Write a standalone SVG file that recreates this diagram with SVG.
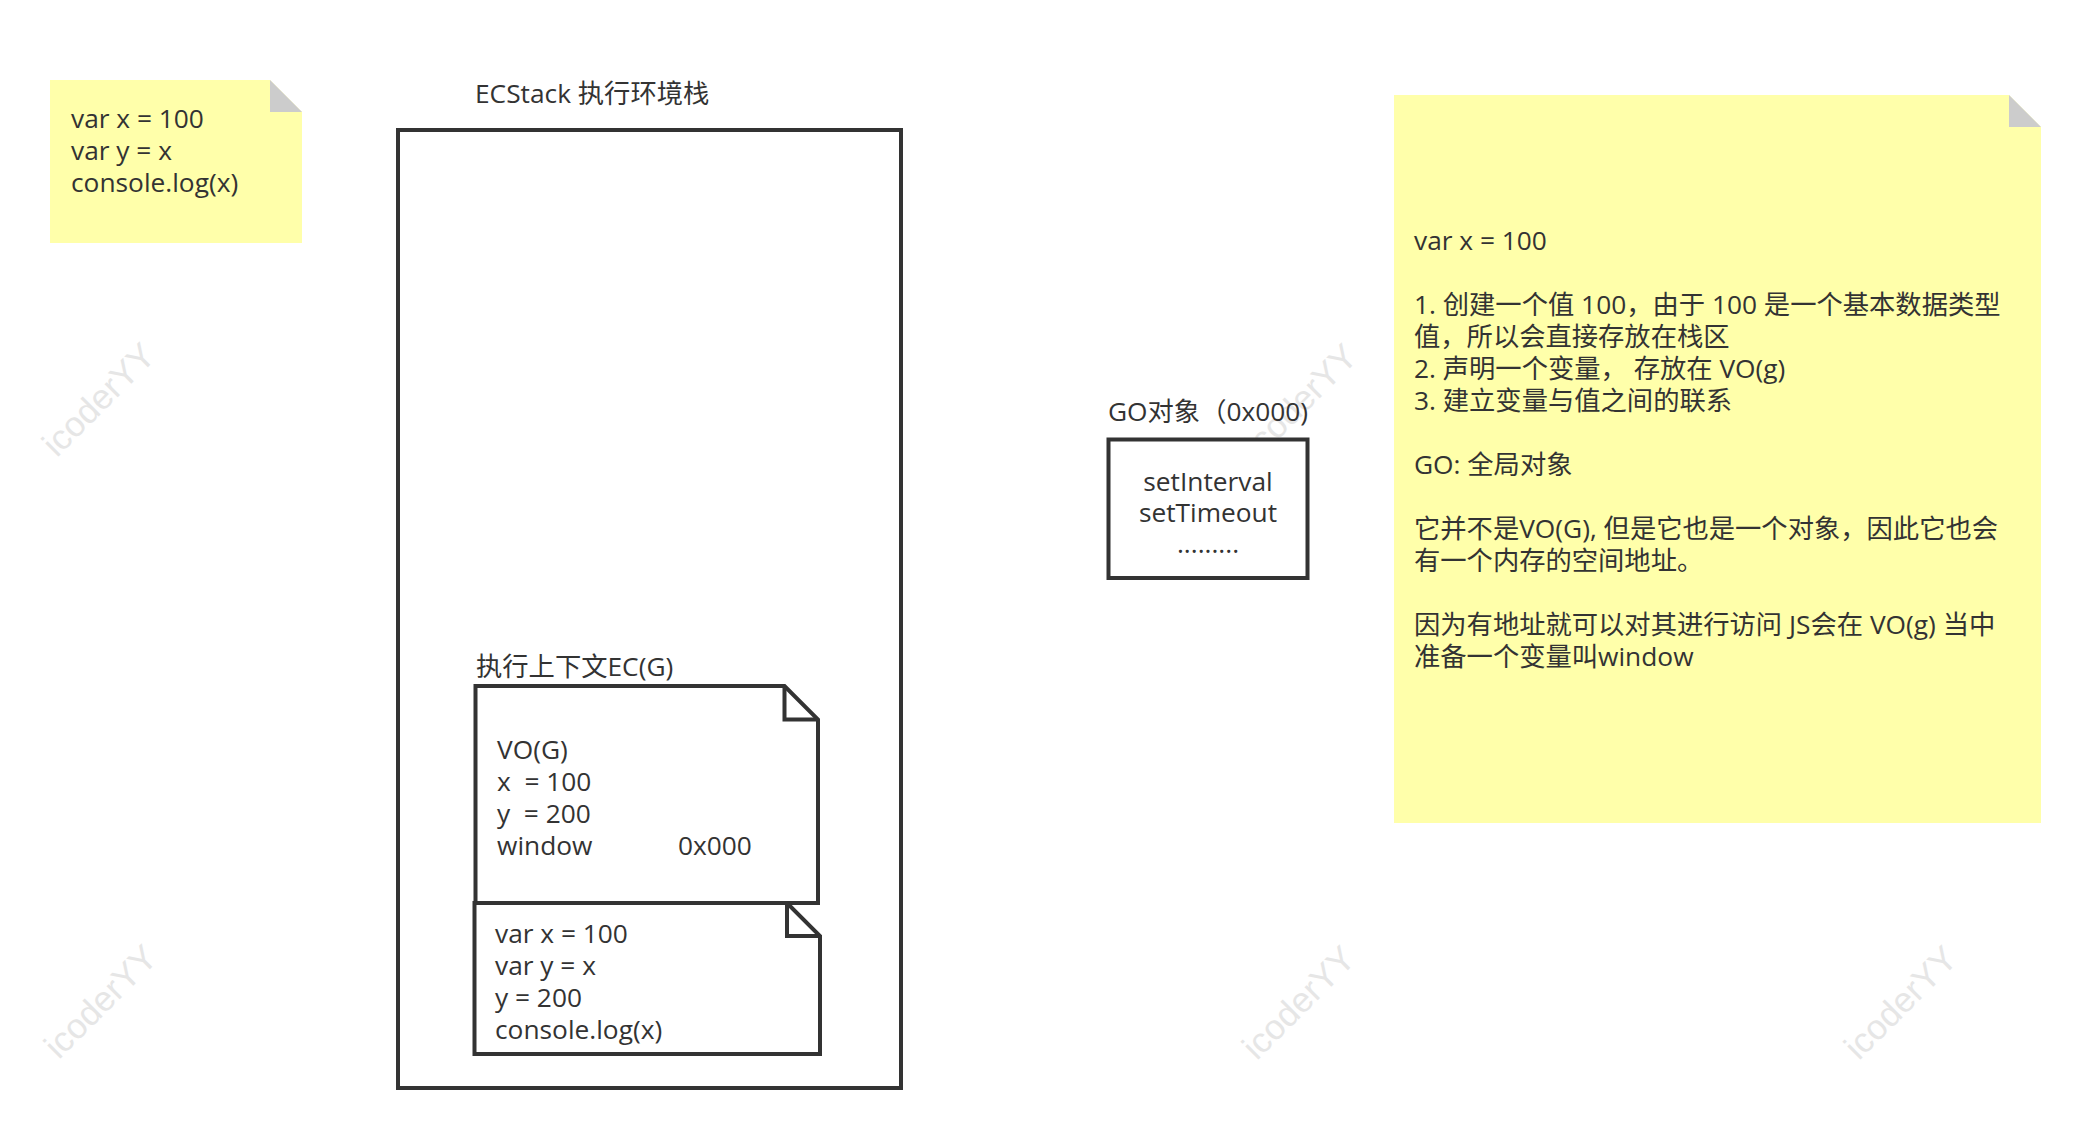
<svg xmlns="http://www.w3.org/2000/svg" width="2086" height="1140" viewBox="0 0 2086 1140">
<style>
text{font-family:"Open Sans","Noto Sans CJK SC",sans-serif;font-size:26.3px;fill:#333333}
.wm{font-family:"Liberation Sans","Noto Sans",sans-serif;font-size:35px;fill:#e6e6e6}
.note{fill:#ffffaa;stroke:none}
.fold{fill:#cccccc;stroke:none}
.box{fill:#ffffff;stroke:#333333;stroke-width:4}
.foldline{fill:none;stroke:#333333;stroke-width:4;stroke-linejoin:miter}
.mid{text-anchor:middle}
</style>
<rect width="2086" height="1140" fill="#ffffff"/>
<g id="watermarks">
<text class="wm" text-anchor="middle" transform="translate(107,408) rotate(-45)">icoderYY</text>
<text class="wm" text-anchor="middle" transform="translate(1309,409) rotate(-45)">icoderYY</text>
<text class="wm" text-anchor="middle" transform="translate(109,1010) rotate(-45)">icoderYY</text>
<text class="wm" text-anchor="middle" transform="translate(1307,1011) rotate(-45)">icoderYY</text>
<text class="wm" text-anchor="middle" transform="translate(1909,1011) rotate(-45)">icoderYY</text>
</g>
<g id="code-note">
<path class="note" d="M50,80 H270 L302,112 V243 H50 Z"/>
<path class="fold" d="M270,80 L302,112 H270 Z"/>
<text x="71" y="128">var x = 100</text>
<text x="71" y="160">var y = x</text>
<text x="71" y="192">console.log(x)</text>
</g>
<g id="ecstack">
<text x="475" y="103">ECStack 执行环境栈</text>
<rect class="box" x="398" y="130" width="503" height="958"/>
</g>
<g id="ec-g">
<text x="476" y="676">执行上下文EC(G)</text>
</g>
<g id="vo-g">
<path class="box" d="M475.5,686 H784.5 L818,719.5 V903 H475.5 Z"/>
<path class="foldline" d="M784.5,686 V719.5 H818"/>
<text x="497" y="759">VO(G)</text>
<text x="497" y="791" xml:space="preserve">x  = 100</text>
<text x="497" y="823" xml:space="preserve">y  = 200</text>
<text x="497" y="855">window<tspan x="678">0x000</tspan></text>
</g>
<g id="ec-code">
<path class="box" d="M474.5,903 H787 L820,936 V1054 H474.5 Z"/>
<path class="foldline" d="M787,903 V936 H820"/>
<text x="495" y="943">var x = 100</text>
<text x="495" y="975">var y = x</text>
<text x="495" y="1007">y = 200</text>
<text x="495" y="1039">console.log(x)</text>
</g>
<g id="go-object">
<text x="1108" y="421">GO对象（0x000)</text>
<rect class="box" x="1108.5" y="439.5" width="199" height="138.5"/>
<text class="mid" x="1208" y="491">setInterval</text>
<text class="mid" x="1208" y="522">setTimeout</text>
<text class="mid" x="1208" y="553">.........</text>
</g>
<g id="explain-note">
<path class="note" d="M1394,95 H2009 L2041,127 V823 H1394 Z"/>
<path class="fold" d="M2009,95 L2041,127 H2009 Z"/>
<text x="1414" y="250">var x = 100</text>
<text x="1414" y="314">1. 创建一个值 100，由于 100 是一个基本数据类型</text>
<text x="1414" y="346">值，所以会直接存放在栈区</text>
<text x="1414" y="378">2. 声明一个变量， 存放在 VO(g)</text>
<text x="1414" y="410">3. 建立变量与值之间的联系</text>
<text x="1414" y="474">GO: 全局对象</text>
<text x="1414" y="538">它并不是VO(G), 但是它也是一个对象，因此它也会</text>
<text x="1414" y="570">有一个内存的空间地址。</text>
<text x="1414" y="634">因为有地址就可以对其进行访问 JS会在 VO(g) 当中</text>
<text x="1414" y="666">准备一个变量叫window</text>
</g>
<g id="connectors"/>
</svg>
